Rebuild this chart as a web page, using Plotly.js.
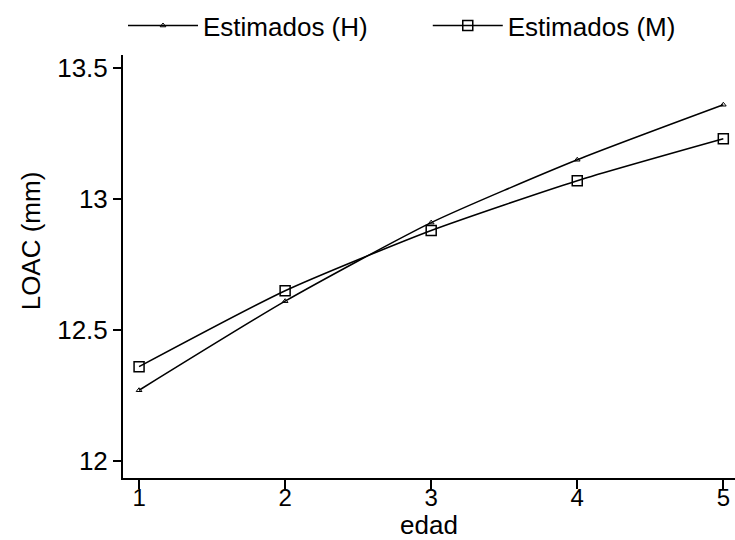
<!DOCTYPE html>
<html>
<head>
<meta charset="utf-8">
<script src="https://cdn.plot.ly/plotly-3.0.1.min.js"></script>
<style>
  html, body { margin: 0; padding: 0; background: #fff; }
  #chart { width: 735px; height: 540px; }
</style>
</head>
<body>
<div id="chart"></div>
<script>
// Edad (x) y LOAC estimado (mm) por sexo
const edad = [1, 2, 3, 4, 5];
const loacH = [12.27, 12.61, 12.91, 13.15, 13.36];
const loacM = [12.36, 12.65, 12.88, 13.07, 13.23];
const yTicks = [12, 12.5, 13, 13.5];
const yTickText = ['12', '12.5', '13', '13.5'];

const FAMILY = 'Liberation Sans, Arial, sans-serif';
const f = (size) => ({ family: FAMILY, size: size, color: '#000' });

const traces = [
  {
    x: edad, y: loacH, name: 'Estimados (H)', type: 'scatter', mode: 'lines+markers',
    legend: 'legend',
    line: { color: '#000', width: 1.5, shape: 'spline', smoothing: 0.6 },
    marker: { symbol: 'triangle-up-open', size: 5, color: '#000', line: { width: 1, color: '#000' } }
  },
  {
    x: edad, y: loacM, name: 'Estimados (M)', type: 'scatter', mode: 'lines+markers',
    legend: 'legend2',
    line: { color: '#000', width: 1.5, shape: 'spline', smoothing: 0.6 },
    marker: { symbol: 'square-open', size: 10, color: '#000', line: { width: 1.5, color: '#000' } }
  }
];

// one legend box per series, side by side above the plot
const legendBox = (x) => ({
  orientation: 'h', x: x, xanchor: 'left', y: 1.125, yanchor: 'top',
  itemwidth: 70, font: f(26), bgcolor: 'rgba(0,0,0,0)'
});

const layout = {
  width: 735, height: 540,
  paper_bgcolor: '#fff', plot_bgcolor: '#fff',
  margin: { l: 123, r: 0, t: 55, b: 62 },
  font: f(26),
  showlegend: true,
  legend: legendBox(0.0),
  legend2: legendBox(0.498),
  xaxis: {
    range: [0.89, 5.08], tickvals: edad, ticktext: edad.map(String),
    showgrid: false, zeroline: false, showline: true, linecolor: '#000', linewidth: 2,
    ticks: 'outside', ticklen: 9, tickwidth: 2, tickcolor: '#000',
    ticklabelstandoff: -12,
    tickfont: f(24),
    title: { text: 'edad', font: f(26), standoff: 0 }
  },
  yaxis: {
    range: [11.935, 13.55], tickvals: yTicks, ticktext: yTickText,
    showgrid: false, zeroline: false, showline: true, linecolor: '#000', linewidth: 2,
    ticks: 'outside', ticklen: 8, tickwidth: 2, tickcolor: '#000',
    tickfont: f(26)
  },
  annotations: [
    {
      text: 'LOAC (mm)', textangle: -90, font: f(26), showarrow: false,
      xref: 'paper', yref: 'paper', x: -0.150, y: 0.56, xanchor: 'center', yanchor: 'middle'
    }
  ]
};

Plotly.newPlot('chart', traces, layout, { displayModeBar: false, staticPlot: true });
</script>
</body>
</html>
